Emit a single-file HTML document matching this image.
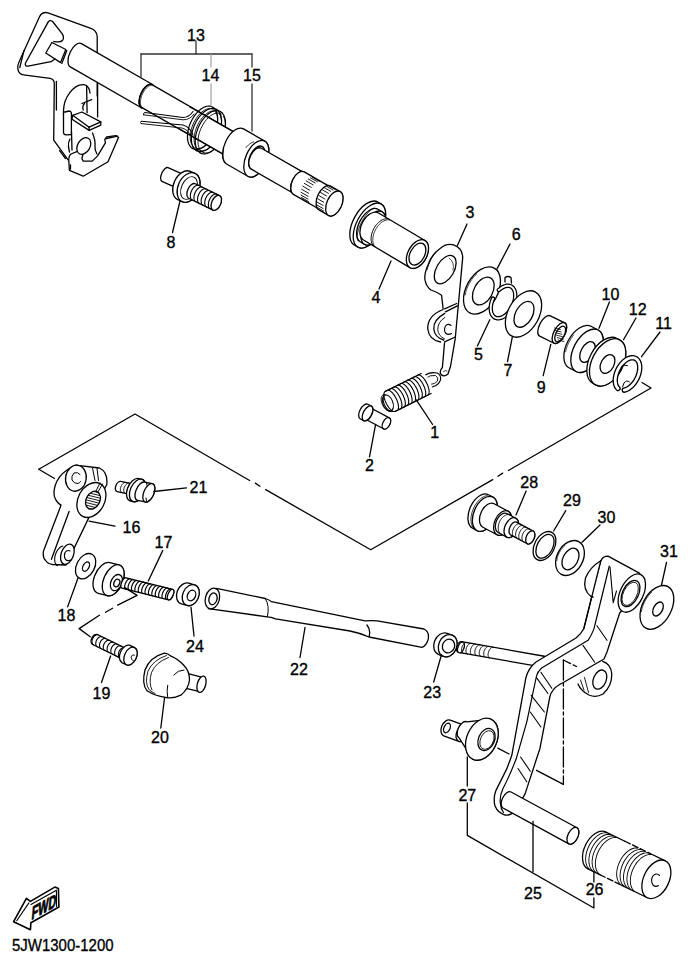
<!DOCTYPE html>
<html><head><meta charset="utf-8"><style>
html,body{margin:0;padding:0;background:#fff;width:688px;height:964px;overflow:hidden}
svg{display:block}
text{font-family:"Liberation Sans",sans-serif;fill:#000;stroke:#000;stroke-width:0.35px}
</style></head><body>
<svg width="688" height="964" viewBox="0 0 688 964">
<rect width="688" height="964" fill="#fff"/>
<g fill="none" stroke="#000" stroke-width="1.3" stroke-linejoin="round" stroke-linecap="round">
<path d="M97.2,96 L97.2,36.4 Q96.5,30 90.2,28.2 L48,12.8 Q42.5,11.5 39.7,16.3 L19.6,60.8 Q16.8,66.5 18.2,70.5 Q19.5,74.3 23.5,74.8 L50.1,78.3 Q54.2,79.3 54.3,83 L53.7,140.2 L68.1,159.8" fill="#fff"/>
<line x1="56.4" y1="81.5" x2="56.4" y2="110"/>
<line x1="59.6" y1="150.6" x2="65.5" y2="158.5"/>
<line x1="24" y1="50.4" x2="19.8" y2="67.5"/>
<line x1="97.6" y1="84" x2="97.6" y2="117"/>
<path d="M48.4,21.6 Q50.5,19.5 53,22 L62.3,33.8 Q64.5,37.5 62.5,40.5 Q61,42 57.5,41.8 L53.6,41.6" fill="none"/>
<path d="M45.8,53 L51.9,42.5 L65.8,49.5 L60.6,62.6 Z" fill="#fff"/>
<line x1="66.8" y1="50.6" x2="61.8" y2="63.4"/>
<path d="M48.4,21.6 L25.5,63 Q24.5,66.5 28,66.2 L51,61.7 L55,59" fill="none"/>
<path d="M63.5,115.3 Q63,104 67,97 Q72,88 79.2,85.2 Q84,84 86,85.2 Q89.5,87.5 90,93" fill="none"/>
<line x1="86.6" y1="86" x2="87.1" y2="112.7"/>
<line x1="81.9" y1="103.5" x2="91.7" y2="99.6"/>
<path d="M83.2,110 Q82,106 84.5,103.5" fill="none"/>
<path d="M65,112 Q63.5,111.5 63.5,114 L63.5,133 Q64,135 66.5,134.8 L71.4,134.5 L71.4,113 Q71,111 69,111 Z" fill="#fff"/>
<path d="M68.8,161.1 L69.4,170.3 L83.2,176.2 L108,161.8 L118.5,137.6 L115.9,135.6 L106.7,136.9 L104.8,139.5 L105.4,142.8 L97.6,155.9 L92.3,161.1 L83.2,161.1 L81.9,158.5 L83.2,153.3 L79.2,150.6 L71,154 Q68.5,156 68.8,161.1 Z" fill="#fff"/>
<line x1="70.5" y1="165" x2="70.5" y2="169"/>
<line x1="106.5" y1="138.5" x2="117.5" y2="136.2"/>
<path d="M71.5,132 L72,150 M70,139 Q68,142 68.5,147 L69.5,152" fill="none"/>
<path d="M92.5,133 Q95.5,140 95,146 Q94.5,150 97,154" fill="none"/>
<ellipse cx="83.8" cy="146" rx="6.2" ry="9" transform="rotate(30 83.8 146)" fill="#fff"/>
<path d="M72.7,115.3 L81.9,112 L100.8,121.9 L100.8,125.1 L89.1,130.4 L72,119.2 Z" fill="#fff"/>
<line x1="89.1" y1="127.2" x2="89.1" y2="130.4"/>
<line x1="89.1" y1="127.2" x2="100.8" y2="121.9"/>
<line x1="72.7" y1="115.3" x2="89.1" y2="127.2"/>
<path d="M81.4,43.63 L152.48,84.5 A6.5,12.9 24 0 1 141.39,107.77 L70.3,66.89 A6.5,12.9 24 0 1 81.4,43.63 Z" fill="#fff"/>
<path d="M152.33,84.88 L239.02,134.72 A6.5,12.5 24 0 1 228.23,157.25 L141.54,107.4 A6.5,12.5 24 0 1 152.33,84.88 Z" fill="#fff"/>
<polyline points="141.69,107.92 141.1,107.58 140.57,107.11 140.11,106.53 139.73,105.83 139.42,105.02 139.2,104.12 139.06,103.12 139.01,102.06 139.05,100.92 139.17,99.74 139.38,98.51 139.67,97.26 140.04,96 140.48,94.74 141,93.49 141.58,92.27 142.22,91.1 142.91,89.98 143.65,88.93 144.42,87.95 145.22,87.07 146.03,86.29 146.86,85.61 147.69,85.05 148.51,84.61 149.31,84.29 150.09,84.11 150.83,84.06 151.53,84.14 152.18,84.35"/>
<polyline points="142.2,107.67 141.7,107.12 141.28,106.44 140.94,105.66 140.68,104.78 140.51,103.81 140.43,102.75 140.43,101.63 140.53,100.45 140.72,99.24 140.99,97.99 141.35,96.73 141.79,95.48 142.3,94.24 142.88,93.03 143.52,91.87 144.21,90.76 144.96,89.72 145.74,88.77 146.54,87.91 147.37,87.15 148.21,86.51 149.05,85.98 149.88,85.58 150.69,85.32 151.47,85.18 152.21,85.18" stroke-width="0.8"/>
<polyline points="213.84,108.01 214.84,109.05 215.7,110.29 216.41,111.74 216.97,113.36 217.38,115.14 217.61,117.05 217.68,119.09 217.59,121.23 217.32,123.44 216.9,125.69 216.31,127.97 215.57,130.25 214.69,132.5 213.68,134.69 212.54,136.81 211.29,138.83 209.94,140.73 208.51,142.49 207.02,144.08 205.47,145.49 203.9,146.7 202.31,147.71 200.72,148.49 199.15,149.04 197.62,149.36 196.15,149.44 194.74,149.28 193.43,148.88 192.21,148.25" stroke-width="1.2"/>
<polyline points="215.59,111.94 216.28,113.22 216.82,114.68 217.21,116.3 217.45,118.05 217.53,119.93 217.45,121.91 217.22,123.96 216.83,126.07 216.3,128.21 215.62,130.34 214.8,132.46 213.86,134.53 212.81,136.54 211.65,138.45 210.4,140.24 209.07,141.9 207.69,143.41 206.26,144.75 204.81,145.9 203.34,146.84 201.88,147.58 200.44,148.1 199.04,148.39 197.7,148.45 196.43,148.29 195.24,147.89" stroke-width="0.9"/>
<polyline points="217.74,110.25 218.74,111.29 219.6,112.54 220.31,113.98 220.88,115.6 221.28,117.38 221.51,119.3 221.59,121.34 221.49,123.47 221.23,125.68 220.8,127.93 220.21,130.21 219.48,132.49 218.59,134.74 217.58,136.94 216.44,139.06 215.19,141.08 213.84,142.97 212.41,144.73 210.92,146.32 209.37,147.73 207.8,148.94 206.21,149.95 204.62,150.73 203.05,151.29 201.52,151.61 200.05,151.69 198.65,151.52 197.33,151.13 196.11,150.49" stroke-width="1.2"/>
<polyline points="219.5,114.18 220.18,115.47 220.72,116.92 221.11,118.54 221.35,120.3 221.43,122.18 221.35,124.15 221.12,126.21 220.73,128.31 220.2,130.45 219.52,132.59 218.7,134.7 217.76,136.78 216.71,138.78 215.55,140.69 214.3,142.49 212.98,144.15 211.59,145.65 210.16,146.99 208.71,148.14 207.24,149.09 205.78,149.82 204.34,150.34 202.95,150.63 201.6,150.7 200.33,150.53 199.15,150.14" stroke-width="0.9"/>
<polyline points="221.64,112.49 222.64,113.53 223.5,114.78 224.22,116.22 224.78,117.84 225.18,119.62 225.42,121.54 225.49,123.58 225.39,125.71 225.13,127.92 224.7,130.18 224.11,132.46 223.38,134.73 222.49,136.98 221.48,139.18 220.34,141.3 219.09,143.32 217.74,145.22 216.31,146.97 214.82,148.56 213.28,149.97 211.7,151.19 210.11,152.19 208.52,152.98 206.95,153.53 205.42,153.85 203.95,153.93 202.55,153.77 201.23,153.37 200.01,152.74" stroke-width="1.2"/>
<polyline points="223.4,116.43 224.08,117.71 224.62,119.17 225.01,120.78 225.25,122.54 225.33,124.42 225.26,126.4 225.02,128.45 224.64,130.56 224.1,132.69 223.42,134.83 222.61,136.95 221.66,139.02 220.61,141.02 219.45,142.93 218.2,144.73 216.88,146.39 215.49,147.9 214.06,149.23 212.61,150.38 211.14,151.33 209.68,152.07 208.24,152.59 206.85,152.88 205.5,152.94 204.23,152.77 203.05,152.38" stroke-width="0.9"/>
<path d="M189.49,106.59 L238.91,135 A6.5,12.2 24 0 1 228.34,156.97 L178.93,128.55 A6.5,12.2 24 0 1 189.49,106.59 Z" fill="#fff" stroke="none"/>
<path d="M189.49,106.59 L238.91,135 M178.93,128.55 L228.34,156.97"/>
<polyline points="192.21,148.25 191.09,147.37 190.1,146.26 189.25,144.94 188.56,143.42 188.03,141.72 187.67,139.86 187.48,137.85 187.46,135.73 187.62,133.52 187.96,131.25 188.46,128.93 189.12,126.6 189.94,124.28 190.91,122 192.01,119.79 193.24,117.68 194.57,115.68 195.99,113.82 197.49,112.12 199.05,110.6 200.65,109.28 202.28,108.18 203.9,107.3 205.51,106.66 207.09,106.26 208.61,106.11 210.06,106.22 211.43,106.57 212.69,107.17 213.84,108.01" stroke-width="1.2"/>
<polyline points="194.35,147.41 193.38,146.64 192.52,145.67 191.79,144.51 191.19,143.18 190.73,141.69 190.41,140.05 190.24,138.28 190.21,136.41 190.34,134.46 190.62,132.44 191.04,130.37 191.6,128.29 192.3,126.2 193.12,124.15 194.06,122.14 195.11,120.2 196.25,118.35 197.48,116.62 198.78,115.01 200.13,113.55 201.53,112.26 202.95,111.14 204.38,110.22 205.8,109.5 207.2,108.98 208.57,108.68 209.89,108.59 211.13,108.73 212.3,109.08 213.38,109.64" stroke-width="0.9"/>
<polyline points="196.11,150.49 194.99,149.61 194,148.5 193.15,147.18 192.46,145.66 191.93,143.96 191.57,142.1 191.38,140.1 191.36,137.98 191.52,135.77 191.86,133.49 192.36,131.17 193.03,128.84 193.85,126.52 194.81,124.25 195.91,122.04 197.14,119.92 198.47,117.92 199.89,116.06 201.4,114.36 202.95,112.84 204.55,111.52 206.18,110.42 207.8,109.54 209.41,108.9 210.99,108.5 212.51,108.36 213.96,108.46 215.33,108.81 216.6,109.41 217.74,110.25" stroke-width="1.2"/>
<polyline points="198.25,149.65 197.28,148.88 196.42,147.91 195.69,146.75 195.09,145.42 194.63,143.93 194.31,142.29 194.14,140.53 194.12,138.66 194.24,136.7 194.52,134.68 194.94,132.61 195.5,130.53 196.2,128.45 197.02,126.39 197.96,124.38 199.01,122.44 200.16,120.6 201.38,118.86 202.68,117.25 204.03,115.8 205.43,114.5 206.85,113.39 208.28,112.46 209.7,111.74 211.1,111.22 212.47,110.92 213.79,110.84 215.04,110.97 216.2,111.32 217.28,111.89" stroke-width="0.9"/>
<polyline points="200.01,152.74 198.89,151.86 197.9,150.75 197.05,149.43 196.36,147.91 195.83,146.2 195.47,144.34 195.28,142.34 195.27,140.22 195.43,138.01 195.76,135.73 196.26,133.42 196.93,131.08 197.75,128.77 198.71,126.49 199.82,124.28 201.04,122.16 202.37,120.16 203.8,118.3 205.3,116.6 206.86,115.09 208.46,113.77 210.08,112.66 211.7,111.78 213.31,111.14 214.89,110.75 216.41,110.6 217.87,110.7 219.23,111.06 220.5,111.65 221.64,112.49" stroke-width="1.2"/>
<polyline points="202.16,151.9 201.18,151.12 200.33,150.15 199.59,149 198.99,147.66 198.53,146.17 198.21,144.53 198.04,142.77 198.02,140.9 198.14,138.94 198.42,136.92 198.84,134.86 199.4,132.77 200.1,130.69 200.92,128.63 201.86,126.63 202.91,124.69 204.06,122.84 205.28,121.1 206.58,119.5 207.93,118.04 209.33,116.75 210.75,115.63 212.18,114.71 213.6,113.98 215.01,113.47 216.37,113.17 217.69,113.08 218.94,113.22 220.11,113.57 221.18,114.13" stroke-width="0.9"/>
<path d="M145,112.5 L183,117.5 Q189,117.5 193,111.5" fill="none" stroke-width="1.1"/>
<path d="M143.5,114.8 L183,119.8 Q190,120 194,114" fill="none" stroke-width="0.9"/>
<path d="M141.2,121.3 L183,125 Q190,127 193,135" fill="none" stroke-width="1.1"/>
<path d="M141.2,123.6 L182,128 Q188,129.5 191,136" fill="none" stroke-width="0.9"/>
<path d="M145,112.5 Q142.5,113 143.5,114.8 M141.2,121.3 Q139.5,122.5 141.2,123.6" fill="none" stroke-width="0.9"/>
<path d="M243.54,128.93 L264.78,141.14 A10.6,19.5 24 0 1 247.85,176.23 L226.61,164.02 A10.6,19.5 24 0 1 243.54,128.93 Z" fill="#fff"/>
<ellipse cx="256.31" cy="158.69" rx="10.6" ry="19.5" transform="rotate(24 256.31 158.69)" fill="#fff"/>
<ellipse cx="256.81" cy="157.82" rx="7" ry="12.5" transform="rotate(24 256.81 157.82)" fill="#fff"/>
<path d="M261.37,148.26 L304.28,172.93 A6.5,11.6 24 0 1 294.17,193.79 L251.26,169.11 A6.5,11.6 24 0 1 261.37,148.26 Z" fill="#fff"/>
<polyline points="223.8,159.99 223.36,158.44 223.09,156.72 222.99,154.87 223.06,152.91 223.3,150.86 223.7,148.76" stroke-width="0.8"/>
<polyline points="245.97,147.64 247.11,146.28 248.33,145.06 249.61,143.99 250.94,143.1 252.28,142.39 253.64,141.88" stroke-width="0.8"/>
<path d="M304.24,171.88 L330.24,186.83 A7,12.5 24 0 1 319.35,209.3 L293.35,194.35 A7,12.5 24 0 1 304.24,171.88 Z" fill="#fff"/>
<polyline points="293.71,194.53 293.07,194.17 292.49,193.69 291.98,193.09 291.55,192.39 291.19,191.58 290.92,190.68 290.74,189.69 290.64,188.64 290.63,187.52 290.71,186.36 290.88,185.15 291.14,183.93 291.48,182.7 291.9,181.47 292.4,180.26 292.96,179.09 293.59,177.95 294.28,176.87 295.02,175.87 295.8,174.94 296.61,174.1 297.44,173.35 298.29,172.72 299.15,172.2 300,171.8 300.84,171.52 301.65,171.37 302.44,171.35 303.18,171.46 303.88,171.69" stroke-width="1"/>
<path d="M330.6,186.11 L340.13,191.6 A7.5,13.3 24 0 1 328.54,215.5 L319,210.02 A7.5,13.3 24 0 1 330.6,186.11 Z" fill="#fff"/>
<ellipse cx="334.34" cy="203.55" rx="7.5" ry="13.3" transform="rotate(24 334.34 203.55)" fill="#fff"/>
<line x1="302.63" y1="199.39" x2="309.56" y2="203.37" stroke-width="0.9"/>
<line x1="301.59" y1="197.56" x2="308.53" y2="201.55" stroke-width="0.9"/>
<line x1="301.08" y1="195.15" x2="308.01" y2="199.14" stroke-width="0.9"/>
<line x1="301.12" y1="192.34" x2="308.05" y2="196.33" stroke-width="0.9"/>
<line x1="301.7" y1="189.3" x2="308.64" y2="193.29" stroke-width="0.9"/>
<line x1="302.8" y1="186.25" x2="309.74" y2="190.23" stroke-width="0.9"/>
<line x1="304.33" y1="183.39" x2="311.27" y2="187.38" stroke-width="0.9"/>
<line x1="306.2" y1="180.92" x2="313.13" y2="184.91" stroke-width="0.9"/>
<line x1="308.27" y1="179.01" x2="315.2" y2="182.99" stroke-width="0.9"/>
<line x1="310.4" y1="177.78" x2="317.34" y2="181.77" stroke-width="0.9"/>
<line x1="312.45" y1="177.33" x2="319.39" y2="181.31" stroke-width="0.9"/>
<line x1="318.67" y1="209.51" x2="324.74" y2="213" stroke-width="0.9"/>
<line x1="317.56" y1="207.56" x2="323.62" y2="211.05" stroke-width="0.9"/>
<line x1="317" y1="205" x2="323.06" y2="208.49" stroke-width="0.9"/>
<line x1="317.03" y1="202" x2="323.1" y2="205.49" stroke-width="0.9"/>
<line x1="317.65" y1="198.76" x2="323.72" y2="202.25" stroke-width="0.9"/>
<line x1="318.81" y1="195.51" x2="324.88" y2="199" stroke-width="0.9"/>
<line x1="320.45" y1="192.47" x2="326.52" y2="195.96" stroke-width="0.9"/>
<line x1="322.44" y1="189.85" x2="328.51" y2="193.34" stroke-width="0.9"/>
<line x1="324.65" y1="187.82" x2="330.71" y2="191.31" stroke-width="0.9"/>
<line x1="326.93" y1="186.52" x2="332.99" y2="190.01" stroke-width="0.9"/>
<line x1="329.12" y1="186.04" x2="335.19" y2="189.53" stroke-width="0.9"/>
<g stroke="#333">
<line x1="196" y1="41" x2="196" y2="54"/>
<line x1="141" y1="54" x2="252" y2="54"/>
<line x1="141" y1="54" x2="141" y2="77"/>
<line x1="252" y1="54" x2="252" y2="67"/>
<line x1="252" y1="84" x2="252" y2="131"/>
</g>
<g stroke="#999">
<line x1="211" y1="54" x2="211" y2="67" stroke-width="1.1"/>
<line x1="211" y1="84" x2="211" y2="106" stroke-width="1.1"/>
</g>
<text x="196" y="40.7" font-size="16" text-anchor="middle">13</text>
<text x="210.5" y="80.7" font-size="16" text-anchor="middle">14</text>
<text x="252" y="80.7" font-size="16" text-anchor="middle">15</text>
<path d="M168.05,167.65 L188.15,176.6 A3.5,7.5 24 0 1 182.05,190.3 L161.95,181.35 A3.5,7.5 24 0 1 168.05,167.65 Z" fill="#fff"/>
<path d="M190.3,171.34 L194.87,173.37 A10.5,15.5 24 0 1 182.26,201.69 L177.7,199.66 A10.5,15.5 24 0 1 190.3,171.34 Z" fill="#fff"/>
<ellipse cx="188.57" cy="187.53" rx="10.5" ry="15.5" transform="rotate(24 188.57 187.53)" fill="#fff"/>
<ellipse cx="189" cy="188" rx="7.5" ry="12" transform="rotate(24 189 188)" fill="none" stroke-width="0.9"/>
<path d="M195.33,183.73 L219.6,195.57 A4.5,8 24 0 1 212.93,210.11 L188.67,198.27 A4.5,8 24 0 1 195.33,183.73 Z" fill="#fff"/>
<ellipse cx="216.27" cy="202.84" rx="4.5" ry="8" transform="rotate(24 216.27 202.84)" fill="#fff"/>
<polyline points="192.34,200.06 191.93,199.83 191.56,199.52 191.23,199.14 190.95,198.68 190.72,198.17 190.55,197.59 190.43,196.96 190.36,196.28 190.36,195.57 190.41,194.82 190.52,194.05 190.68,193.27 190.9,192.48 191.17,191.7 191.49,190.92 191.85,190.17 192.25,189.44 192.69,188.75 193.16,188.11 193.66,187.51 194.18,186.98 194.72,186.5 195.26,186.1 195.81,185.76 196.36,185.51 196.9,185.33 197.42,185.24 197.92,185.22 198.4,185.29 198.85,185.44" stroke-width="1.1"/>
<polyline points="195.94,201.81 195.53,201.58 195.15,201.27 194.83,200.89 194.55,200.44 194.32,199.92 194.14,199.34 194.02,198.71 193.96,198.03 193.95,197.32 194,196.57 194.11,195.8 194.28,195.02 194.49,194.23 194.76,193.45 195.08,192.67 195.44,191.92 195.85,191.19 196.29,190.5 196.76,189.86 197.26,189.26 197.78,188.73 198.31,188.25 198.86,187.85 199.41,187.52 199.95,187.26 200.49,187.08 201.02,186.99 201.52,186.97 202,187.04 202.45,187.2" stroke-width="1.1"/>
<polyline points="199.53,203.56 199.12,203.33 198.75,203.02 198.42,202.64 198.14,202.19 197.91,201.67 197.74,201.09 197.62,200.46 197.56,199.79 197.55,199.07 197.6,198.33 197.71,197.56 197.87,196.77 198.09,195.99 198.36,195.2 198.68,194.43 199.04,193.67 199.44,192.95 199.88,192.26 200.36,191.61 200.85,191.02 201.37,190.48 201.91,190.01 202.46,189.6 203,189.27 203.55,189.01 204.09,188.84 204.61,188.74 205.12,188.73 205.59,188.8 206.04,188.95" stroke-width="1.1"/>
<polyline points="203.13,205.32 202.72,205.09 202.35,204.78 202.02,204.39 201.74,203.94 201.51,203.42 201.34,202.84 201.22,202.21 201.15,201.54 201.15,200.82 201.2,200.08 201.3,199.31 201.47,198.53 201.69,197.74 201.96,196.95 202.27,196.18 202.64,195.42 203.04,194.7 203.48,194.01 203.95,193.36 204.45,192.77 204.97,192.23 205.51,191.76 206.05,191.35 206.6,191.02 207.15,190.76 207.68,190.59 208.21,190.49 208.71,190.48 209.19,190.55 209.64,190.7" stroke-width="1.1"/>
<polyline points="206.73,207.07 206.31,206.84 205.94,206.53 205.62,206.15 205.34,205.69 205.11,205.17 204.93,204.6 204.81,203.97 204.75,203.29 204.74,202.57 204.79,201.83 204.9,201.06 205.06,200.28 205.28,199.49 205.55,198.7 205.87,197.93 206.23,197.18 206.64,196.45 207.08,195.76 207.55,195.12 208.05,194.52 208.57,193.98 209.1,193.51 209.65,193.1 210.2,192.77 210.74,192.52 211.28,192.34 211.8,192.24 212.31,192.23 212.79,192.3 213.23,192.45" stroke-width="1.1"/>
<polyline points="210.32,208.82 209.91,208.59 209.54,208.28 209.21,207.9 208.93,207.44 208.7,206.93 208.53,206.35 208.41,205.72 208.34,205.04 208.34,204.33 208.39,203.58 208.5,202.81 208.66,202.03 208.88,201.24 209.15,200.46 209.47,199.68 209.83,198.93 210.23,198.2 210.67,197.51 211.14,196.87 211.64,196.27 212.16,195.74 212.7,195.26 213.24,194.86 213.79,194.52 214.34,194.27 214.88,194.09 215.4,194 215.9,193.98 216.38,194.05 216.83,194.2" stroke-width="1.1"/>
<line x1="180" y1="201" x2="172.5" y2="232.5"/>
<text x="171" y="248.2" font-size="16" text-anchor="middle">8</text>
<path d="M377.79,202.03 L381.22,204.07 A13,24.5 28 0 1 357.65,247.01 L354.21,244.97 A13,24.5 28 0 1 377.79,202.03 Z" fill="#fff"/>
<ellipse cx="369.44" cy="225.54" rx="13" ry="24.5" transform="rotate(28 369.44 225.54)" fill="#fff"/>
<path d="M377.91,209.29 L382.21,211.84 A10,18.5 28 0 1 364.39,244.26 L360.09,241.71 A10,18.5 28 0 1 377.91,209.29 Z" fill="#fff"/>
<ellipse cx="373.3" cy="228.05" rx="10" ry="18.5" transform="rotate(28 373.3 228.05)" fill="#fff"/>
<path d="M378.52,212.95 L424.95,240.52 A9.5,15.5 28 0 1 409.92,267.62 L363.48,240.05 A9.5,15.5 28 0 1 378.52,212.95 Z" fill="#fff"/>
<ellipse cx="417.43" cy="254.07" rx="9.5" ry="15.5" transform="rotate(28 417.43 254.07)" fill="#fff"/>
<ellipse cx="417.43" cy="254.07" rx="7.2" ry="11.8" transform="rotate(28 417.43 254.07)" fill="#fff"/>
<polyline points="373.56,245.84 372.85,245.04 372.26,244.11 371.78,243.04 371.42,241.87 371.19,240.59 371.08,239.23 371.1,237.79 371.25,236.31 371.52,234.78 371.92,233.24 372.43,231.7 373.06,230.17 373.79,228.68 374.62,227.24 375.53,225.86 376.53,224.57 377.58,223.38 378.69,222.3 379.84,221.35 381.02,220.53 382.21,219.86 383.4,219.34 384.58,218.98 385.73,218.78 386.83,218.75 387.89,218.88" stroke-width="1.0"/>
<polyline points="375.27,246.86 374.57,246.06 373.98,245.13 373.5,244.06 373.14,242.89 372.91,241.61 372.8,240.25 372.82,238.81 372.97,237.33 373.24,235.8 373.64,234.26 374.15,232.72 374.78,231.19 375.51,229.7 376.34,228.26 377.25,226.88 378.25,225.59 379.3,224.4 380.41,223.32 381.56,222.37 382.74,221.55 383.93,220.88 385.12,220.36 386.3,220 387.45,219.8 388.55,219.77 389.61,219.91" stroke-width="0.8"/>
<polyline points="358.14,240.95 357.72,240.22 357.41,239.32 357.22,238.27 357.15,237.07 357.19,235.74 357.36,234.29 357.64,232.74 358.03,231.1 358.53,229.4 359.14,227.65 359.85,225.87 360.64,224.08 361.51,222.3 362.46,220.55 363.46,218.85 364.52,217.22 365.61,215.67 366.73,214.22 367.86,212.89 369,211.7 370.12,210.65 371.22,209.76 372.29,209.03 373.31,208.48 374.27,208.11" stroke-width="0.8"/>
<line x1="391" y1="261" x2="379" y2="289"/>
<text x="376" y="302.7" font-size="16" text-anchor="middle">4</text>
<path d="M444.6,341.9 L442.4,367.5 Q439,371 441,374.5 Q444,377.5 448,374 L450.6,366 L455.2,338.9 L462.7,257.6 Q462.5,248 453.7,244.8 Q446,243 440.1,248.5 Q431,255 428,265 Q424,274 425,280.2 Q426.5,287 431,290 Q437,292 441.6,295.2 L443.1,308.8" fill="#fff"/>
<path d="M427,270 Q430,258 437,251" fill="none" stroke-width="0.7"/>
<ellipse cx="445.2" cy="269.6" rx="8.8" ry="15.6" transform="rotate(30 445.2 269.6)" fill="#fff"/>
<path d="M449,258 Q455,262 453,270" fill="none" stroke-width="0.7"/>
<path d="M443,309 Q427,316 427.8,329 Q429,340 440.6,342 L445,342.5 L453,339 L457,306 Z" fill="#fff" stroke="none"/>
<path d="M443,309.5 Q427,316 427.8,329 Q429,340 440.6,342" fill="none"/>
<path d="M444.7,313.4 Q433,320 433.8,329 Q434.8,337.5 443.7,340" fill="none"/>
<path d="M444.8,317.5 Q437.5,322 437.8,330 Q438.3,336 444.5,338.8" fill="none" stroke-width="0.9"/>
<path d="M451,325.5 Q448,323 445.5,326 Q443.5,330 445.5,333 Q448,335.5 451.5,333.5" fill="none" stroke-width="1.1"/>
<line x1="444.6" y1="308.8" x2="456.7" y2="303.5"/>
<line x1="445.4" y1="311.8" x2="457.4" y2="305.8"/>
<line x1="444.6" y1="341.9" x2="455.2" y2="337"/>
<path d="M443.5,371.5 Q445.5,369.5 447,371" fill="none" stroke-width="0.8"/>
<line x1="457.4" y1="245.5" x2="467" y2="224"/>
<text x="470" y="217.7" font-size="16" text-anchor="middle">3</text>
<ellipse cx="482" cy="290.5" rx="15.8" ry="25.5" transform="rotate(28.7 482 290.5)" fill="#fff"/>
<ellipse cx="483.3" cy="291" rx="9.3" ry="15" transform="rotate(28.7 483.3 291)" fill="#fff"/>
<polyline points="465.22,295 465.69,292.7 466.34,290.38 467.16,288.07 468.15,285.78 469.28,283.54 470.56,281.37 471.96,279.31 473.47,277.37 475.07,275.58 476.75,273.94" stroke-width="0.7"/>
<line x1="497" y1="268.9" x2="510" y2="244"/>
<text x="516.3" y="240.2" font-size="16" text-anchor="middle">6</text>
<path d="M505,282 L505,277.5 Q508,275.5 511,277.5 L511.5,283" fill="#fff"/>
<polyline points="498.87,290.08 500.55,288.62 502.27,287.44 504.01,286.55 505.73,285.97 507.39,285.71 508.97,285.78 510.42,286.17 511.73,286.88 512.86,287.9 513.8,289.2 514.51,290.75 515,292.53 515.24,294.5 515.24,296.62 515,298.85 514.51,301.15 513.79,303.46 512.86,305.74 511.72,307.94 510.41,310.03 508.96,311.95 507.38,313.68 505.72,315.17 504,316.4 502.26,317.33 500.53,317.96 498.86,318.27 497.27,318.25 495.79,317.91 494.46,317.25 493.3,316.28 492.33,315.02 491.58,313.5 491.06,311.76 490.78,309.81 490.74,307.71 490.95,305.49 491.4,303.21 492.08,300.9 492.99,298.61" stroke-width="4.4" fill="none"/>
<polyline points="498.87,290.08 500.55,288.62 502.27,287.44 504.01,286.55 505.73,285.97 507.39,285.71 508.97,285.78 510.42,286.17 511.73,286.88 512.86,287.9 513.8,289.2 514.51,290.75 515,292.53 515.24,294.5 515.24,296.62 515,298.85 514.51,301.15 513.79,303.46 512.86,305.74 511.72,307.94 510.41,310.03 508.96,311.95 507.38,313.68 505.72,315.17 504,316.4 502.26,317.33 500.53,317.96 498.86,318.27 497.27,318.25 495.79,317.91 494.46,317.25 493.3,316.28 492.33,315.02 491.58,313.5 491.06,311.76 490.78,309.81 490.74,307.71 490.95,305.49 491.4,303.21 492.08,300.9 492.99,298.61" stroke="#fff" stroke-width="1.9" fill="none"/>
<line x1="489.8" y1="319.8" x2="477.4" y2="346"/>
<text x="478.5" y="359.7" font-size="16" text-anchor="middle">5</text>
<ellipse cx="523.5" cy="314" rx="15.5" ry="25" transform="rotate(28.7 523.5 314)" fill="#fff"/>
<ellipse cx="524" cy="314.3" rx="8.5" ry="14" transform="rotate(28.7 524 314.3)" fill="#fff"/>
<line x1="512.3" y1="337.2" x2="507.5" y2="361.5"/>
<text x="508" y="375.7" font-size="16" text-anchor="middle">7</text>
<path d="M550.32,315.8 L564.7,322.82 A5.5,11.5 28 0 1 554.06,343.21 L539.68,336.2 A5.5,11.5 28 0 1 550.32,315.8 Z" fill="#fff"/>
<ellipse cx="559.38" cy="333.01" rx="5.5" ry="11.5" transform="rotate(28 559.38 333.01)" fill="#fff"/>
<ellipse cx="560.2" cy="334" rx="4.2" ry="8.5" transform="rotate(28 560.2 334)" fill="#fff"/>
<line x1="554.4" y1="328" x2="560.4" y2="329.5" stroke-width="0.8"/>
<line x1="555.12" y1="330.4" x2="561.12" y2="331.9" stroke-width="0.8"/>
<line x1="555.84" y1="332.8" x2="561.84" y2="334.3" stroke-width="0.8"/>
<line x1="556.56" y1="335.2" x2="562.56" y2="336.7" stroke-width="0.8"/>
<line x1="557.28" y1="337.6" x2="563.28" y2="339.1" stroke-width="0.8"/>
<line x1="558" y1="340" x2="564" y2="341.5" stroke-width="0.8"/>
<line x1="550.8" y1="344.4" x2="543.2" y2="375.6"/>
<text x="541.3" y="392.7" font-size="16" text-anchor="middle">9</text>
<path d="M591.03,326.25 L598.1,330.01 A13.5,23.5 28 0 1 576.03,371.51 L568.97,367.75 A13.5,23.5 28 0 1 591.03,326.25 Z" fill="#fff"/>
<ellipse cx="587.06" cy="350.76" rx="13.5" ry="23.5" transform="rotate(28 587.06 350.76)" fill="#fff"/>
<ellipse cx="587.5" cy="352" rx="6.5" ry="11.2" transform="rotate(28 587.5 352)" fill="#fff"/>
<polyline points="565.66,351.83 566.14,349.67 566.79,347.47 567.59,345.26 568.54,343.08 569.63,340.94 570.84,338.88 572.16,336.91 573.58,335.06" stroke-width="0.7"/>
<line x1="599" y1="328.3" x2="609.4" y2="302"/>
<text x="610.5" y="299.7" font-size="16" text-anchor="middle">10</text>
<path d="M616.97,338.48 L619.62,339.89 A15.5,25.5 28 0 1 595.68,384.92 L593.03,383.52 A15.5,25.5 28 0 1 616.97,338.48 Z" fill="#fff"/>
<ellipse cx="607.65" cy="362.41" rx="15.5" ry="25.5" transform="rotate(28 607.65 362.41)" fill="#fff"/>
<ellipse cx="607.5" cy="364" rx="6.5" ry="10" transform="rotate(28 607.5 364)" fill="#fff"/>
<line x1="623.5" y1="339.7" x2="636" y2="318"/>
<text x="637.7" y="314.7" font-size="16" text-anchor="middle">12</text>
<polyline points="618.05,388.53 617.04,387.34 616.24,385.88 615.66,384.18 615.32,382.28 615.23,380.21 615.38,378.01 615.78,375.74 616.41,373.43 617.26,371.13 618.32,368.89 619.56,366.76 620.97,364.76 622.5,362.96 624.14,361.37 625.84,360.04 627.57,358.99 629.31,358.24 631,357.81 632.63,357.7 634.16,357.92 635.55,358.46 636.78,359.31 637.82,360.46 638.65,361.88 639.27,363.55 639.64,365.42 639.77,367.47 639.66,369.64 639.3,371.91 638.71,374.21 637.88,376.52 636.86,378.77 635.64,380.92 634.26,382.94 632.74,384.78 631.12,386.4 629.43,387.77 627.7,388.87 625.96,389.66 624.25,390.15" stroke-width="5.4" />
<polyline points="618.05,388.53 617.04,387.34 616.24,385.88 615.66,384.18 615.32,382.28 615.23,380.21 615.38,378.01 615.78,375.74 616.41,373.43 617.26,371.13 618.32,368.89 619.56,366.76 620.97,364.76 622.5,362.96 624.14,361.37 625.84,360.04 627.57,358.99 629.31,358.24 631,357.81 632.63,357.7 634.16,357.92 635.55,358.46 636.78,359.31 637.82,360.46 638.65,361.88 639.27,363.55 639.64,365.42 639.77,367.47 639.66,369.64 639.3,371.91 638.71,374.21 637.88,376.52 636.86,378.77 635.64,380.92 634.26,382.94 632.74,384.78 631.12,386.4 629.43,387.77 627.7,388.87 625.96,389.66 624.25,390.15" stroke="#fff" stroke-width="2.8" />
<path d="M629.5,382 Q626.5,379.5 624,383 L622.5,387" fill="none" stroke-width="1"/>
<path d="M621,367 Q623.5,364 627.5,365.5" fill="none" stroke-width="1"/>
<line x1="641.5" y1="356.7" x2="660" y2="332"/>
<text x="663.5" y="329" font-size="16" text-anchor="middle">11</text>
<polyline points="38.8,469.2 135,414 249.6,480.5"/>
<line x1="255.3" y1="483.1" x2="260" y2="486.2"/>
<polyline points="265.7,489.6 370.7,549.8 492.7,479.6"/>
<line x1="497.9" y1="476.2" x2="502.7" y2="473.1"/>
<polyline points="508.4,470.5 651,388 642,382.5"/>
<ellipse cx="389.32" cy="402.34" rx="5.5" ry="9.5" transform="rotate(-21.5 389.32 402.34)" fill="none" stroke-width="1.1"/>
<path d="M424,376 Q430,371.5 437,373 Q441.5,375 440.5,380 Q438.5,385.5 432,387 L427.5,389" fill="none" stroke-width="1.1"/>
<path d="M425.5,378.5 Q430,374.5 435.5,375.5 Q439,377.5 437.5,381 Q435.5,384 430.5,384.5" fill="none" stroke-width="0.9"/>
<path d="M385.32,391.32 L421.12,373.47 A4.5,11.2 -26.5 0 1 431.11,393.51 L395.31,411.36 A4.5,11.2 -26.5 0 1 385.32,391.32 Z" fill="#fff" stroke="none"/>
<path d="M385.32,391.32 L421.12,373.47 M395.31,411.36 L431.11,393.51"/>
<polyline points="386.78,390.64 387.19,390.39 387.66,390.25 388.18,390.23 388.74,390.33 389.34,390.54 389.98,390.87 390.64,391.3 391.31,391.84 392,392.48 392.68,393.21 393.36,394.03 394.03,394.91 394.67,395.86 395.28,396.86 395.86,397.91 396.39,398.98 396.88,400.07 397.31,401.16 397.68,402.24 397.99,403.31 398.23,404.34 398.4,405.33 398.5,406.26 398.52,407.12 398.47,407.91 398.35,408.61 398.16,409.22 397.9,409.73 397.57,410.14 397.18,410.43 396.73,410.61" stroke-width="1.1"/>
<polyline points="390.18,388.94 390.59,388.69 391.06,388.55 391.58,388.53 392.14,388.63 392.74,388.85 393.38,389.17 394.04,389.61 394.71,390.15 395.4,390.79 396.08,391.52 396.76,392.33 397.43,393.22 398.07,394.17 398.68,395.17 399.26,396.21 399.79,397.28 400.28,398.37 400.71,399.46 401.08,400.55 401.39,401.61 401.63,402.64 401.8,403.63 401.9,404.56 401.92,405.43 401.87,406.21 401.75,406.92 401.56,407.53 401.3,408.04 400.97,408.44 400.58,408.73 400.13,408.91" stroke-width="1.1"/>
<polyline points="393.58,387.24 393.99,386.99 394.46,386.86 394.98,386.84 395.54,386.94 396.14,387.15 396.78,387.48 397.44,387.91 398.11,388.45 398.8,389.09 399.48,389.82 400.16,390.63 400.83,391.52 401.47,392.47 402.08,393.47 402.66,394.51 403.2,395.59 403.68,396.67 404.11,397.77 404.48,398.85 404.79,399.92 405.03,400.95 405.2,401.93 405.3,402.87 405.32,403.73 405.28,404.52 405.15,405.22 404.96,405.83 404.7,406.34 404.37,406.74 403.98,407.04 403.53,407.22" stroke-width="1.1"/>
<polyline points="396.98,385.55 397.39,385.3 397.86,385.16 398.38,385.14 398.94,385.24 399.55,385.45 400.18,385.78 400.84,386.22 401.51,386.76 402.2,387.4 402.88,388.13 403.56,388.94 404.23,389.83 404.87,390.77 405.48,391.78 406.06,392.82 406.6,393.89 407.08,394.98 407.51,396.07 407.88,397.16 408.19,398.22 408.43,399.25 408.6,400.24 408.7,401.17 408.72,402.03 408.68,402.82 408.56,403.53 408.36,404.14 408.1,404.65 407.77,405.05 407.38,405.34 406.93,405.52" stroke-width="1.1"/>
<polyline points="400.38,383.85 400.79,383.6 401.26,383.47 401.78,383.45 402.34,383.55 402.95,383.76 403.58,384.09 404.24,384.52 404.91,385.06 405.6,385.7 406.28,386.43 406.96,387.24 407.63,388.13 408.27,389.08 408.89,390.08 409.46,391.12 410,392.19 410.48,393.28 410.91,394.38 411.28,395.46 411.59,396.53 411.83,397.56 412,398.54 412.1,399.47 412.13,400.34 412.08,401.13 411.96,401.83 411.76,402.44 411.5,402.95 411.17,403.35 410.78,403.65 410.34,403.82" stroke-width="1.1"/>
<polyline points="403.78,382.16 404.19,381.91 404.66,381.77 405.18,381.75 405.74,381.85 406.35,382.06 406.98,382.39 407.64,382.83 408.32,383.37 409,384.01 409.69,384.74 410.36,385.55 411.03,386.43 411.67,387.38 412.29,388.38 412.86,389.43 413.4,390.5 413.88,391.59 414.31,392.68 414.68,393.77 414.99,394.83 415.23,395.86 415.4,396.85 415.5,397.78 415.53,398.64 415.48,399.43 415.36,400.14 415.16,400.75 414.9,401.25 414.57,401.66 414.18,401.95 413.74,402.13" stroke-width="1.1"/>
<polyline points="407.18,380.46 407.59,380.21 408.06,380.08 408.58,380.06 409.14,380.15 409.75,380.37 410.38,380.69 411.04,381.13 411.72,381.67 412.4,382.31 413.09,383.04 413.77,383.85 414.43,384.74 415.07,385.69 415.69,386.69 416.26,387.73 416.8,388.8 417.28,389.89 417.71,390.99 418.09,392.07 418.39,393.13 418.63,394.17 418.8,395.15 418.9,396.08 418.93,396.95 418.88,397.74 418.76,398.44 418.57,399.05 418.3,399.56 417.98,399.96 417.59,400.25 417.14,400.43" stroke-width="1.1"/>
<polyline points="410.58,378.77 410.99,378.52 411.46,378.38 411.98,378.36 412.55,378.46 413.15,378.67 413.78,379 414.44,379.43 415.12,379.98 415.8,380.61 416.49,381.34 417.17,382.16 417.83,383.04 418.47,383.99 419.09,384.99 419.66,386.04 420.2,387.11 420.68,388.2 421.11,389.29 421.49,390.37 421.79,391.44 422.03,392.47 422.2,393.46 422.3,394.39 422.33,395.25 422.28,396.04 422.16,396.74 421.97,397.35 421.7,397.86 421.38,398.27 420.99,398.56 420.54,398.74" stroke-width="1.1"/>
<polyline points="413.98,377.07 414.39,376.82 414.86,376.69 415.38,376.67 415.95,376.76 416.55,376.98 417.18,377.3 417.84,377.74 418.52,378.28 419.2,378.92 419.89,379.65 420.57,380.46 421.23,381.35 421.87,382.3 422.49,383.3 423.07,384.34 423.6,385.41 424.08,386.5 424.52,387.59 424.89,388.68 425.19,389.74 425.43,390.77 425.6,391.76 425.7,392.69 425.73,393.56 425.68,394.35 425.56,395.05 425.37,395.66 425.11,396.17 424.78,396.57 424.39,396.86 423.94,397.04" stroke-width="1.1"/>
<polyline points="417.38,375.38 417.79,375.13 418.26,374.99 418.78,374.97 419.35,375.07 419.95,375.28 420.58,375.61 421.24,376.04 421.92,376.58 422.6,377.22 423.29,377.95 423.97,378.77 424.63,379.65 425.28,380.6 425.89,381.6 426.47,382.65 427,383.72 427.49,384.81 427.92,385.9 428.29,386.98 428.6,388.05 428.84,389.08 429.01,390.07 429.1,391 429.13,391.86 429.08,392.65 428.96,393.35 428.77,393.96 428.51,394.47 428.18,394.88 427.79,395.17 427.34,395.35" stroke-width="1.1"/>
<polyline points="395.64,411.15 395.23,411.4 394.76,411.54 394.24,411.55 393.68,411.46 393.08,411.24 392.44,410.92 391.78,410.48 391.11,409.94 390.42,409.3 389.74,408.57 389.06,407.76 388.39,406.87 387.75,405.92 387.14,404.92 386.56,403.88 386.03,402.81 385.54,401.72 385.11,400.63 384.74,399.54 384.43,398.48 384.19,397.45 384.02,396.46 383.92,395.53 383.9,394.66 383.95,393.87 384.07,393.17 384.26,392.56 384.52,392.05 384.85,391.65 385.24,391.36 385.69,391.18" stroke-width="1.1"/>
<ellipse cx="387.87" cy="403.06" rx="5" ry="8.5" transform="rotate(-21.5 387.87 403.06)" fill="none" stroke-width="1.0"/>
<polyline points="392.9,408.76 392.67,409.35 392.38,409.87 392.04,410.31 391.64,410.68 391.2,410.95 390.71,411.14 390.18,411.24 389.62,411.25 389.03,411.17 388.42,410.99 387.8,410.73 387.17,410.38 386.54,409.95 385.92,409.44 385.32,408.86 384.73,408.21 384.17,407.51 383.64,406.76 383.15,405.96 382.71,405.13 382.31,404.28 381.97,403.41 381.69,402.53 381.46,401.66 381.3,400.81 381.2,399.97 381.17,399.17 381.2,398.41 381.3,397.7 381.47,397.04 381.69,396.45 381.98,395.93 382.32,395.49 382.72,395.12 383.17,394.85 383.66,394.66 384.19,394.56 384.75,394.55 385.33,394.63 385.94,394.81" stroke-width="1.0"/>
<line x1="416.3" y1="399.9" x2="432.6" y2="424.5"/>
<text x="434.6" y="437.6" font-size="16" text-anchor="middle">1</text>
<path d="M369.91,407.53 L389.34,417.85 A3.5,6.2 28 0 1 383.51,428.8 L364.09,418.47 A3.5,6.2 28 0 1 369.91,407.53 Z" fill="#fff"/>
<ellipse cx="386.42" cy="423.33" rx="3.5" ry="6.2" transform="rotate(28 386.42 423.33)" fill="#fff"/>
<path d="M367.85,404.26 L371.38,406.14 A4.2,8.2 28 0 1 363.68,420.62 L360.15,418.74 A4.2,8.2 28 0 1 367.85,404.26 Z" fill="#fff"/>
<ellipse cx="367.53" cy="413.38" rx="4.2" ry="8.2" transform="rotate(28 367.53 413.38)" fill="#fff"/>
<line x1="375.6" y1="424.3" x2="369.5" y2="456.8"/>
<text x="369.5" y="471.2" font-size="16" text-anchor="middle">2</text>
<path d="M67.4,469.7 Q58,476 55,486 Q53,494 55,498 Q57,503 61.1,505.1 L43.4,551.3 Q42.5,558 45.7,560.5 Q48,564 52.6,564.5 L66,565 L88,519.4 L106.8,484.5 Q108,472 99.4,468 L75.4,465.1 Z" fill="#fff"/>
<line x1="69.1" y1="511.4" x2="51.4" y2="559.3"/>
<ellipse cx="75.9" cy="478.2" rx="10.3" ry="13.1" transform="rotate(10 75.9 478.2)" fill="#fff"/>
<path d="M80,474.5 Q77.5,471.5 74,473 Q71,476 72,480 Q74,484 78,483.5 Q79.5,483 80.5,481.5" fill="none" stroke-width="1.0"/>
<line x1="92.5" y1="468" x2="95" y2="480.5" stroke-width="1"/>
<line x1="97" y1="468.3" x2="98.5" y2="480.5" stroke-width="1"/>
<ellipse cx="91.4" cy="500" rx="13.2" ry="18.5" transform="rotate(28 91.4 500)" fill="#fff"/>
<ellipse cx="93" cy="500.2" rx="6.8" ry="9.5" transform="rotate(28 93 500.2)" fill="#fff"/>
<clipPath id="sp16"><ellipse cx="93" cy="500.2" rx="6.8" ry="9.5" transform="rotate(28 93 500.2)"/></clipPath>
<g clip-path="url(#sp16)">
<line x1="84" y1="489" x2="102" y2="493.5" stroke-width="0.9"/>
<line x1="84" y1="491.6" x2="102" y2="496.1" stroke-width="0.9"/>
<line x1="84" y1="494.2" x2="102" y2="498.7" stroke-width="0.9"/>
<line x1="84" y1="496.8" x2="102" y2="501.3" stroke-width="0.9"/>
<line x1="84" y1="499.4" x2="102" y2="503.9" stroke-width="0.9"/>
<line x1="84" y1="502" x2="102" y2="506.5" stroke-width="0.9"/>
<line x1="84" y1="504.6" x2="102" y2="509.1" stroke-width="0.9"/>
<line x1="84" y1="507.2" x2="102" y2="511.7" stroke-width="0.9"/>
<line x1="84" y1="509.8" x2="102" y2="514.3" stroke-width="0.9"/>
</g>
<line x1="98.2" y1="491.5" x2="102.5" y2="484" stroke-width="1"/>
<line x1="96" y1="491" x2="100" y2="483" stroke-width="1"/>
<ellipse cx="67.4" cy="554.2" rx="6.2" ry="10.5" transform="rotate(20 67.4 554.2)" fill="#fff"/>
<polyline points="57.41,565.64 56.85,565.27 56.33,564.78 55.88,564.19 55.49,563.51 55.17,562.74 54.93,561.88 54.76,560.97 54.67,559.99 54.66,558.96 54.73,557.9 54.88,556.82 55.11,555.73 55.42,554.64 55.79,553.57 56.23,552.53 56.73,551.52 57.29,550.57 57.9,549.69 58.55,548.87 59.23,548.14 59.94,547.5 60.67,546.97 61.41,546.53 62.15,546.21 62.88,546" stroke-width="1.1"/>
<path d="M70,551 Q67,549.5 65,552.5 Q63.5,556.5 65.5,559.5 Q67.5,561.5 70.5,560" fill="none" stroke-width="1.1"/>
<line x1="89.1" y1="521.1" x2="115" y2="526.2"/>
<text x="131.4" y="532.8" font-size="16" text-anchor="middle">16</text>
<line x1="38.8" y1="469.2" x2="54.5" y2="478.5"/>
<path d="M120.81,481.44 L137.44,484.98 A3.2,5.4 24 0 1 133.81,495.09 L117.19,491.56 A3.2,5.4 24 0 1 120.81,481.44 Z" fill="#fff"/>
<ellipse cx="135.63" cy="490.03" rx="3.2" ry="5.4" transform="rotate(24 135.63 490.03)" fill="#fff"/>
<polyline points="121.8,492.53 121.51,492.37 121.24,492.15 121.01,491.89 120.8,491.58 120.64,491.22 120.5,490.83 120.41,490.4 120.36,489.93 120.34,489.45 120.37,488.94 120.44,488.42 120.54,487.89 120.68,487.35 120.86,486.82 121.08,486.3 121.32,485.79 121.6,485.3 121.9,484.84 122.22,484.4 122.57,484.01 122.93,483.65 123.3,483.33 123.68,483.06 124.06,482.84 124.44,482.68 124.82,482.56 125.19,482.51 125.54,482.5 125.88,482.56 126.2,482.67" stroke-width="1.0"/>
<polyline points="125.2,493.25 124.91,493.09 124.64,492.87 124.41,492.61 124.2,492.3 124.04,491.94 123.9,491.55 123.81,491.12 123.76,490.65 123.74,490.17 123.77,489.66 123.84,489.14 123.94,488.61 124.08,488.07 124.26,487.54 124.48,487.02 124.72,486.51 125,486.02 125.3,485.56 125.62,485.12 125.97,484.73 126.33,484.37 126.7,484.05 127.08,483.78 127.46,483.56 127.84,483.4 128.22,483.28 128.59,483.23 128.94,483.22 129.28,483.28 129.6,483.39" stroke-width="1.0"/>
<polyline points="128.6,493.97 128.31,493.81 128.04,493.59 127.81,493.33 127.6,493.02 127.44,492.66 127.3,492.27 127.21,491.84 127.16,491.37 127.14,490.89 127.17,490.38 127.24,489.86 127.34,489.33 127.48,488.79 127.66,488.26 127.88,487.74 128.12,487.23 128.4,486.74 128.7,486.28 129.02,485.84 129.37,485.45 129.73,485.09 130.1,484.77 130.48,484.5 130.86,484.28 131.24,484.12 131.62,484 131.99,483.95 132.34,483.94 132.68,484 133,484.11" stroke-width="1.0"/>
<polyline points="132,494.69 131.71,494.53 131.44,494.31 131.21,494.05 131,493.74 130.84,493.38 130.7,492.99 130.61,492.56 130.56,492.09 130.54,491.61 130.57,491.1 130.64,490.58 130.74,490.05 130.88,489.51 131.06,488.98 131.28,488.46 131.52,487.95 131.8,487.46 132.1,487 132.42,486.56 132.77,486.17 133.13,485.81 133.5,485.49 133.88,485.22 134.26,485 134.64,484.84 135.02,484.72 135.39,484.67 135.74,484.66 136.08,484.72 136.4,484.83" stroke-width="1.0"/>
<path d="M138.56,478.57 L141.49,479.19 A7,12 24 0 1 133.38,501.65 L130.44,501.03 A7,12 24 0 1 138.56,478.57 Z" fill="#fff"/>
<ellipse cx="137.43" cy="490.42" rx="7" ry="12" transform="rotate(24 137.43 490.42)" fill="#fff"/>
<path d="M144.47,482.08 L152.3,483.74 A5,9.8 24 0 1 145.35,501.98 L137.53,500.32 A5,9.8 24 0 1 144.47,482.08 Z" fill="#fff"/>
<ellipse cx="148.83" cy="492.86" rx="5" ry="9.8" transform="rotate(24 148.83 492.86)" fill="#fff"/>
<line x1="146.5" y1="482.2" x2="147" y2="485.5" stroke-width="1"/>
<line x1="146" y1="498" x2="146.5" y2="501.2" stroke-width="1"/>
<line x1="153.8" y1="491.5" x2="186.5" y2="487.9"/>
<text x="198.5" y="493.1" font-size="16" text-anchor="middle">21</text>
<ellipse cx="85.6" cy="566.2" rx="9" ry="13.5" transform="rotate(28 85.6 566.2)" fill="#fff"/>
<ellipse cx="86" cy="566.6" rx="3" ry="5" transform="rotate(28 86 566.6)" fill="#fff"/>
<line x1="78" y1="578" x2="67.6" y2="606.9"/>
<text x="66.5" y="621.2" font-size="16" text-anchor="middle">18</text>
<path d="M109.8,562.61 L119.02,564.91 A9.5,16.5 24 0 1 107.42,595.68 L98.2,593.39 A9.5,16.5 24 0 1 109.8,562.61 Z" fill="#fff"/>
<ellipse cx="113.22" cy="580.3" rx="9.5" ry="16.5" transform="rotate(24 113.22 580.3)" fill="#fff"/>
<ellipse cx="116.4" cy="582.6" rx="5.5" ry="8.5" transform="rotate(24 116.4 582.6)" fill="#fff"/>
<ellipse cx="116.8" cy="583" rx="2.8" ry="4" transform="rotate(24 116.8 583)" fill="#fff"/>
<path d="M126.09,577.82 L172.67,589.43 A2.5,5.6 24 0 1 168.48,599.79 L121.91,588.18 A2.5,5.6 24 0 1 126.09,577.82 Z" fill="#fff"/>
<ellipse cx="170.57" cy="594.61" rx="2.5" ry="5.6" transform="rotate(24 170.57 594.61)" fill="#fff"/>
<polyline points="125.6,589.08 125.38,588.95 125.18,588.76 125.01,588.52 124.87,588.23 124.77,587.89 124.7,587.51 124.66,587.09 124.66,586.64 124.69,586.15 124.76,585.65 124.87,585.12 125.01,584.58 125.17,584.04 125.37,583.49 125.6,582.95 125.85,582.42 126.12,581.91 126.41,581.42 126.72,580.96 127.04,580.53 127.37,580.14 127.71,579.79 128.05,579.49 128.38,579.23 128.71,579.03 129.03,578.88 129.34,578.79 129.63,578.75 129.91,578.77 130.16,578.85" stroke-width="1.15"/>
<polyline points="129,589.93 128.77,589.8 128.57,589.61 128.41,589.37 128.27,589.07 128.16,588.74 128.09,588.36 128.06,587.94 128.06,587.48 128.09,587 128.16,586.49 128.26,585.97 128.4,585.43 128.57,584.88 128.77,584.34 128.99,583.8 129.24,583.27 129.52,582.76 129.81,582.27 130.12,581.8 130.44,581.38 130.77,580.98 131.1,580.64 131.44,580.33 131.78,580.08 132.11,579.88 132.43,579.73 132.74,579.63 133.03,579.6 133.3,579.62 133.55,579.7" stroke-width="1.15"/>
<polyline points="132.4,590.78 132.17,590.64 131.97,590.45 131.8,590.21 131.66,589.92 131.56,589.58 131.49,589.2 131.45,588.78 131.45,588.33 131.49,587.85 131.56,587.34 131.66,586.81 131.8,586.27 131.97,585.73 132.16,585.18 132.39,584.64 132.64,584.12 132.91,583.6 133.21,583.11 133.51,582.65 133.83,582.22 134.16,581.83 134.5,581.48 134.84,581.18 135.17,580.92 135.5,580.72 135.83,580.57 136.13,580.48 136.43,580.45 136.7,580.47 136.95,580.55" stroke-width="1.15"/>
<polyline points="135.79,591.62 135.57,591.49 135.37,591.3 135.2,591.06 135.06,590.77 134.95,590.43 134.88,590.05 134.85,589.63 134.85,589.18 134.88,588.69 134.95,588.19 135.06,587.66 135.19,587.12 135.36,586.58 135.56,586.03 135.79,585.49 136.04,584.96 136.31,584.45 136.6,583.96 136.91,583.5 137.23,583.07 137.56,582.68 137.9,582.33 138.23,582.03 138.57,581.77 138.9,581.57 139.22,581.42 139.53,581.33 139.82,581.29 140.1,581.31 140.35,581.39" stroke-width="1.15"/>
<polyline points="139.19,592.47 138.96,592.34 138.76,592.15 138.59,591.91 138.46,591.61 138.35,591.28 138.28,590.9 138.24,590.48 138.24,590.02 138.28,589.54 138.35,589.03 138.45,588.51 138.59,587.97 138.76,587.42 138.96,586.88 139.18,586.34 139.43,585.81 139.7,585.3 140,584.81 140.31,584.34 140.63,583.92 140.96,583.52 141.29,583.18 141.63,582.87 141.97,582.62 142.3,582.42 142.62,582.27 142.93,582.17 143.22,582.14 143.49,582.16 143.74,582.24" stroke-width="1.15"/>
<polyline points="142.58,593.32 142.36,593.18 142.16,592.99 141.99,592.75 141.85,592.46 141.75,592.12 141.68,591.74 141.64,591.32 141.64,590.87 141.67,590.39 141.74,589.88 141.85,589.35 141.99,588.82 142.15,588.27 142.35,587.72 142.58,587.18 142.83,586.66 143.1,586.14 143.39,585.65 143.7,585.19 144.02,584.76 144.35,584.37 144.69,584.02 145.03,583.72 145.36,583.46 145.69,583.26 146.01,583.11 146.32,583.02 146.61,582.99 146.89,583.01 147.14,583.09" stroke-width="1.15"/>
<polyline points="145.98,594.16 145.75,594.03 145.55,593.84 145.39,593.6 145.25,593.31 145.14,592.97 145.07,592.59 145.04,592.17 145.04,591.72 145.07,591.23 145.14,590.73 145.24,590.2 145.38,589.66 145.55,589.12 145.75,588.57 145.97,588.03 146.22,587.5 146.5,586.99 146.79,586.5 147.1,586.04 147.42,585.61 147.75,585.22 148.08,584.87 148.42,584.57 148.76,584.31 149.09,584.11 149.41,583.96 149.72,583.87 150.01,583.83 150.28,583.85 150.54,583.93" stroke-width="1.15"/>
<polyline points="149.38,595.01 149.15,594.88 148.95,594.69 148.78,594.45 148.64,594.15 148.54,593.82 148.47,593.44 148.43,593.02 148.43,592.56 148.47,592.08 148.54,591.57 148.64,591.05 148.78,590.51 148.95,589.96 149.14,589.42 149.37,588.88 149.62,588.35 149.89,587.84 150.19,587.35 150.49,586.89 150.81,586.46 151.14,586.07 151.48,585.72 151.82,585.41 152.15,585.16 152.48,584.96 152.81,584.81 153.11,584.72 153.41,584.68 153.68,584.7 153.93,584.78" stroke-width="1.15"/>
<polyline points="152.77,595.86 152.55,595.72 152.35,595.53 152.18,595.29 152.04,595 151.93,594.66 151.86,594.28 151.83,593.86 151.83,593.41 151.86,592.93 151.93,592.42 152.04,591.89 152.17,591.36 152.34,590.81 152.54,590.26 152.77,589.72 153.02,589.2 153.29,588.68 153.58,588.19 153.89,587.73 154.21,587.3 154.54,586.91 154.88,586.56 155.21,586.26 155.55,586.01 155.88,585.8 156.2,585.65 156.51,585.56 156.8,585.53 157.08,585.55 157.33,585.63" stroke-width="1.15"/>
<polyline points="156.17,596.7 155.94,596.57 155.74,596.38 155.57,596.14 155.44,595.85 155.33,595.51 155.26,595.13 155.22,594.71 155.22,594.26 155.26,593.77 155.33,593.27 155.43,592.74 155.57,592.2 155.74,591.66 155.94,591.11 156.16,590.57 156.41,590.04 156.69,589.53 156.98,589.04 157.29,588.58 157.61,588.15 157.94,587.76 158.27,587.41 158.61,587.11 158.95,586.85 159.28,586.65 159.6,586.5 159.91,586.41 160.2,586.37 160.47,586.39 160.72,586.47" stroke-width="1.15"/>
<polyline points="159.56,597.55 159.34,597.42 159.14,597.23 158.97,596.99 158.83,596.69 158.73,596.36 158.66,595.98 158.62,595.56 158.62,595.1 158.66,594.62 158.72,594.11 158.83,593.59 158.97,593.05 159.13,592.5 159.33,591.96 159.56,591.42 159.81,590.89 160.08,590.38 160.37,589.89 160.68,589.43 161,589 161.33,588.61 161.67,588.26 162.01,587.95 162.34,587.7 162.67,587.5 162.99,587.35 163.3,587.26 163.59,587.22 163.87,587.24 164.12,587.32" stroke-width="1.15"/>
<polyline points="162.96,598.4 162.73,598.26 162.53,598.07 162.37,597.83 162.23,597.54 162.12,597.2 162.05,596.82 162.02,596.4 162.02,595.95 162.05,595.47 162.12,594.96 162.22,594.43 162.36,593.9 162.53,593.35 162.73,592.81 162.95,592.26 163.2,591.74 163.48,591.22 163.77,590.73 164.08,590.27 164.4,589.84 164.73,589.45 165.06,589.1 165.4,588.8 165.74,588.55 166.07,588.34 166.39,588.19 166.7,588.1 166.99,588.07 167.26,588.09 167.52,588.17" stroke-width="1.15"/>
<polyline points="166.36,599.24 166.13,599.11 165.93,598.92 165.76,598.68 165.62,598.39 165.52,598.05 165.45,597.67 165.41,597.25 165.41,596.8 165.45,596.31 165.52,595.81 165.62,595.28 165.76,594.74 165.93,594.2 166.12,593.65 166.35,593.11 166.6,592.58 166.87,592.07 167.17,591.58 167.47,591.12 167.79,590.69 168.12,590.3 168.46,589.95 168.8,589.65 169.13,589.39 169.46,589.19 169.79,589.04 170.09,588.95 170.39,588.91 170.66,588.93 170.91,589.01" stroke-width="1.15"/>
<line x1="148.3" y1="581" x2="162.7" y2="550.6"/>
<text x="163.5" y="548.2" font-size="16" text-anchor="middle">17</text>
<polyline points="124.4,587.4 137.1,595.4 117.7,605.2"/>
<line x1="112.6" y1="608.2" x2="105.5" y2="612.3"/>
<polyline points="99.4,615.3 79.1,628.6 90.3,636.7"/>
<path d="M97.36,634.53 L128.82,649.88 A3.5,5.5 25 0 1 124.1,659.81 L92.64,644.47 A3.5,5.5 25 0 1 97.36,634.53 Z" fill="#fff"/>
<polyline points="93.57,644.92 93.26,644.74 92.97,644.51 92.71,644.22 92.49,643.89 92.3,643.52 92.15,643.1 92.05,642.65 91.99,642.17 91.97,641.67 91.99,641.15 92.06,640.61 92.16,640.07 92.31,639.53 92.5,638.99 92.73,638.46 92.99,637.95 93.28,637.46 93.6,636.99 93.95,636.56 94.31,636.17 94.7,635.81 95.1,635.5 95.5,635.24 95.91,635.04 96.33,634.88 96.73,634.78 97.13,634.74 97.51,634.76 97.88,634.83 98.22,634.95" stroke-width="1.1"/>
<polyline points="97.35,646.76 97.03,646.58 96.74,646.35 96.48,646.06 96.26,645.73 96.07,645.36 95.93,644.94 95.82,644.49 95.76,644.02 95.74,643.51 95.76,642.99 95.83,642.46 95.94,641.91 96.09,641.37 96.28,640.83 96.5,640.3 96.76,639.79 97.05,639.3 97.38,638.83 97.72,638.4 98.09,638.01 98.47,637.65 98.87,637.34 99.28,637.09 99.69,636.88 100.1,636.72 100.51,636.62 100.9,636.58 101.29,636.6 101.65,636.67 102,636.79" stroke-width="1.1"/>
<polyline points="101.12,648.61 100.81,648.42 100.52,648.19 100.26,647.9 100.04,647.57 99.85,647.2 99.7,646.78 99.6,646.34 99.54,645.86 99.52,645.35 99.54,644.83 99.61,644.3 99.71,643.75 99.86,643.21 100.05,642.67 100.28,642.14 100.54,641.63 100.83,641.14 101.15,640.67 101.5,640.24 101.86,639.85 102.25,639.49 102.65,639.19 103.05,638.93 103.46,638.72 103.88,638.56 104.28,638.47 104.68,638.42 105.06,638.44 105.43,638.51 105.77,638.64" stroke-width="1.1"/>
<polyline points="104.9,650.45 104.58,650.26 104.29,650.03 104.03,649.75 103.81,649.41 103.62,649.04 103.48,648.63 103.37,648.18 103.31,647.7 103.29,647.2 103.31,646.67 103.38,646.14 103.49,645.6 103.64,645.05 103.83,644.51 104.05,643.98 104.31,643.47 104.6,642.98 104.93,642.51 105.27,642.08 105.64,641.69 106.02,641.34 106.42,641.03 106.83,640.77 107.24,640.56 107.65,640.41 108.06,640.31 108.45,640.26 108.84,640.28 109.2,640.35 109.55,640.48" stroke-width="1.1"/>
<polyline points="108.67,652.29 108.36,652.11 108.07,651.87 107.81,651.59 107.58,651.26 107.4,650.88 107.25,650.47 107.15,650.02 107.09,649.54 107.07,649.04 107.09,648.51 107.16,647.98 107.26,647.44 107.41,646.89 107.6,646.35 107.83,645.82 108.09,645.31 108.38,644.82 108.7,644.36 109.05,643.92 109.41,643.53 109.8,643.18 110.2,642.87 110.6,642.61 111.01,642.4 111.43,642.25 111.83,642.15 112.23,642.11 112.61,642.12 112.98,642.19 113.32,642.32" stroke-width="1.1"/>
<polyline points="112.45,654.13 112.13,653.95 111.84,653.71 111.58,653.43 111.36,653.1 111.17,652.72 111.03,652.31 110.92,651.86 110.86,651.38 110.84,650.88 110.86,650.36 110.93,649.82 111.04,649.28 111.19,648.73 111.38,648.19 111.6,647.67 111.86,647.15 112.15,646.66 112.47,646.2 112.82,645.77 113.19,645.37 113.57,645.02 113.97,644.71 114.38,644.45 114.79,644.24 115.2,644.09 115.61,643.99 116,643.95 116.39,643.96 116.75,644.03 117.1,644.16" stroke-width="1.1"/>
<polyline points="116.22,655.97 115.91,655.79 115.62,655.55 115.36,655.27 115.13,654.94 114.95,654.56 114.8,654.15 114.7,653.7 114.64,653.22 114.62,652.72 114.64,652.2 114.71,651.66 114.81,651.12 114.96,650.57 115.15,650.04 115.38,649.51 115.64,648.99 115.93,648.5 116.25,648.04 116.6,647.61 116.96,647.21 117.35,646.86 117.75,646.55 118.15,646.29 118.56,646.08 118.98,645.93 119.38,645.83 119.78,645.79 120.16,645.8 120.53,645.87 120.87,646" stroke-width="1.1"/>
<polyline points="120,657.81 119.68,657.63 119.39,657.39 119.13,657.11 118.91,656.78 118.72,656.4 118.58,655.99 118.47,655.54 118.41,655.06 118.39,654.56 118.41,654.04 118.48,653.5 118.59,652.96 118.74,652.42 118.93,651.88 119.15,651.35 119.41,650.83 119.7,650.34 120.02,649.88 120.37,649.45 120.74,649.05 121.12,648.7 121.52,648.39 121.93,648.13 122.34,647.92 122.75,647.77 123.16,647.67 123.55,647.63 123.94,647.64 124.3,647.71 124.65,647.84" stroke-width="1.1"/>
<path d="M130.07,645.42 L134.57,647.61 A6,9.5 25 0 1 126.42,664.77 L121.93,662.58 A6,9.5 25 0 1 130.07,645.42 Z" fill="#fff"/>
<ellipse cx="130.49" cy="656.19" rx="6" ry="9.5" transform="rotate(25 130.49 656.19)" fill="#fff"/>
<path d="M134.5,655 Q132,654 131,657 Q131,660 133.5,661" fill="none" stroke-width="0.9"/>
<line x1="110.6" y1="656" x2="101.5" y2="682.5"/>
<text x="101.5" y="698.9" font-size="16" text-anchor="middle">19</text>
<path d="M188.96,673.97 L202.54,677.36 A3.4,7.3 16 0 1 198.63,691.42 L185.04,688.03 A3.4,7.3 16 0 1 188.96,673.97 Z" fill="#fff"/>
<ellipse cx="201.5" cy="684.3" rx="4.2" ry="8.4" transform="rotate(16 201.5 684.3)" fill="#fff"/>
<path d="M164.4,653.2 Q150,657 145,670 Q141.5,684 147,690.8 Q155,696 165.5,697.3 Q173,699 180.8,695.2 Q188.5,689 189.5,680 Q189.5,671 184,665.5 Q178,659 171,656.2 Q168,653.5 164.4,653.2 Z" fill="#fff"/>
<path d="M166.5,655.5 Q153,660 148,671 Q144.5,683 149,689.5 Q152,692.5 155,693.5" fill="none" stroke-width="0.9"/>
<path d="M168.5,657.5 Q156,662 151.5,672.5 Q148.5,683 152,690" fill="none" stroke-width="0.9"/>
<path d="M173.7,675 Q178,670 184,670" fill="none" stroke-width="1"/>
<path d="M167.7,685.3 Q166.5,691 167.7,697.3" fill="none" stroke-width="1"/>
<line x1="164.5" y1="698" x2="160.8" y2="728"/>
<text x="160" y="742.7" font-size="16" text-anchor="middle">20</text>
<path d="M188.71,583.17 L194.48,584.83 A8,11 24 0 1 187.06,605.48 L181.29,603.83 A8,11 24 0 1 188.71,583.17 Z" fill="#fff"/>
<ellipse cx="190.77" cy="595.15" rx="8" ry="11" transform="rotate(24 190.77 595.15)" fill="#fff"/>
<ellipse cx="191.5" cy="595.5" rx="4" ry="5.5" transform="rotate(24 191.5 595.5)" fill="#fff"/>
<line x1="191" y1="607.2" x2="194" y2="636"/>
<text x="195" y="652.2" font-size="16" text-anchor="middle">24</text>
<path d="M216.5,588.3 L265.3,598.5 Q270,600 271.4,601.7 L365,620.9 Q371,620.5 377.2,620.9 L424,629 Q430,632 428,640 Q426,646 422,647.3 L369,637 Q371,630 367,625 M369,637 Q360,633 350,631 L275.5,618.8 Q271,617 267.3,616.8 L208.3,608.7" fill="#fff"/>
<ellipse cx="212.4" cy="598.5" rx="7" ry="10.5" transform="rotate(15 212.4 598.5)" fill="#fff"/>
<ellipse cx="213" cy="598.8" rx="4" ry="6" transform="rotate(15 213 598.8)" fill="#fff"/>
<path d="M265.3,598.5 Q270,606 267.3,616.8" fill="none" stroke-width="1"/>
<line x1="305" y1="627.5" x2="300" y2="657.5"/>
<text x="299" y="675.2" font-size="16" text-anchor="middle">22</text>
<g transform="translate(2.5 1.5)">
<path d="M485.94,493.3 L490.35,495.65 A11,18.5 24 0 1 474.48,529.05 L470.06,526.7 A11,18.5 24 0 1 485.94,493.3 Z" fill="#fff"/>
<ellipse cx="482.41" cy="512.35" rx="11" ry="18.5" transform="rotate(24 482.41 512.35)" fill="#fff"/>
<polyline points="471.84,527.37 471,526.51 470.26,525.49 469.64,524.32 469.14,523.01 468.78,521.57 468.54,520.02 468.45,518.38 468.49,516.66 468.67,514.89 468.98,513.08 469.43,511.25 470,509.42 470.69,507.62 471.5,505.86 472.41,504.16 473.41,502.54 474.5,501.02 475.66,499.62 476.88,498.34 478.14,497.21 479.43,496.23 480.74,495.43 482.06,494.8 483.36,494.35 484.63,494.09" stroke-width="0.8"/>
<path d="M491.6,502.27 L505.72,509.79 A8,13 24 0 1 494.53,533.24 L480.4,525.73 A8,13 24 0 1 491.6,502.27 Z" fill="#fff"/>
<ellipse cx="500.13" cy="521.51" rx="8" ry="13" transform="rotate(24 500.13 521.51)" fill="#fff"/>
<path d="M504.52,512.03 L513.35,516.73 A6.5,10.5 24 0 1 504.31,535.66 L495.48,530.97 A6.5,10.5 24 0 1 504.52,512.03 Z" fill="#fff"/>
<ellipse cx="508.83" cy="526.19" rx="6.5" ry="10.5" transform="rotate(24 508.83 526.19)" fill="#fff"/>
<polyline points="498.73,532.59 498.13,532.26 497.59,531.83 497.1,531.31 496.68,530.69 496.33,529.99 496.05,529.21 495.85,528.36 495.73,527.45 495.69,526.5 495.72,525.51 495.84,524.49 496.03,523.45 496.3,522.41 496.65,521.37 497.06,520.36 497.54,519.37 498.08,518.42 498.67,517.52 499.31,516.68 499.99,515.91 500.71,515.22 501.44,514.62 502.2,514.1 502.96,513.69 503.73,513.37 504.49,513.16 505.23,513.06 505.94,513.07 506.63,513.18 507.27,513.41" stroke-width="0.9"/>
<path d="M513.99,520.68 L530.77,529.6 A4,7 24 0 1 524.79,542.24 L508.01,533.32 A4,7 24 0 1 513.99,520.68 Z" fill="#fff"/>
<ellipse cx="527.78" cy="535.92" rx="4" ry="7" transform="rotate(24 527.78 535.92)" fill="#fff"/>
<polyline points="511.68,535.27 511.32,535.07 510.99,534.79 510.69,534.46 510.44,534.06 510.24,533.6 510.08,533.09 509.97,532.54 509.91,531.95 509.9,531.32 509.94,530.66 510.04,529.99 510.18,529.3 510.37,528.61 510.6,527.93 510.88,527.25 511.2,526.59 511.55,525.96 511.94,525.35 512.35,524.79 512.79,524.27 513.25,523.8 513.72,523.39 514.2,523.04 514.69,522.75 515.17,522.52 515.65,522.37 516.11,522.29 516.56,522.28 516.98,522.35 517.38,522.48" stroke-width="1"/>
<polyline points="514.86,536.96 514.5,536.75 514.17,536.48 513.87,536.14 513.62,535.74 513.42,535.29 513.26,534.78 513.15,534.23 513.09,533.63 513.08,533.01 513.12,532.35 513.21,531.68 513.36,530.99 513.54,530.3 513.78,529.61 514.06,528.94 514.37,528.28 514.73,527.64 515.12,527.04 515.53,526.48 515.97,525.96 516.43,525.49 516.9,525.08 517.38,524.72 517.87,524.43 518.35,524.21 518.83,524.06 519.29,523.98 519.74,523.97 520.16,524.03 520.56,524.17" stroke-width="1"/>
<polyline points="518.04,538.65 517.68,538.44 517.34,538.17 517.05,537.83 516.8,537.43 516.6,536.98 516.44,536.47 516.33,535.92 516.27,535.32 516.26,534.7 516.3,534.04 516.39,533.37 516.53,532.68 516.72,531.99 516.96,531.3 517.24,530.63 517.55,529.97 517.91,529.33 518.29,528.73 518.71,528.17 519.15,527.65 519.61,527.18 520.08,526.76 520.56,526.41 521.05,526.12 521.53,525.9 522,525.75 522.47,525.67 522.91,525.66 523.34,525.72 523.74,525.86" stroke-width="1"/>
<polyline points="521.22,540.34 520.85,540.13 520.52,539.86 520.23,539.52 519.98,539.12 519.78,538.67 519.62,538.16 519.51,537.6 519.45,537.01 519.44,536.38 519.48,535.73 519.57,535.06 519.71,534.37 519.9,533.68 520.14,532.99 520.41,532.31 520.73,531.65 521.09,531.02 521.47,530.42 521.89,529.85 522.33,529.33 522.79,528.87 523.26,528.45 523.74,528.1 524.22,527.81 524.71,527.59 525.18,527.44 525.65,527.36 526.09,527.35 526.52,527.41 526.92,527.55" stroke-width="1"/>
</g>
<line x1="516" y1="515" x2="526.1" y2="491"/>
<text x="529.2" y="488.4" font-size="16" text-anchor="middle">28</text>
<ellipse cx="544.5" cy="546" rx="10" ry="15.5" transform="rotate(28 544.5 546)" fill="#fff"/>
<ellipse cx="545" cy="546.3" rx="7.8" ry="12.8" transform="rotate(28 545 546.3)" fill="#fff"/>
<line x1="553.6" y1="531" x2="565.8" y2="510.7"/>
<text x="572" y="506.2" font-size="16" text-anchor="middle">29</text>
<ellipse cx="570" cy="558" rx="13" ry="18.5" transform="rotate(28 570 558)" fill="#fff"/>
<ellipse cx="570.5" cy="559" rx="7.5" ry="11.5" transform="rotate(28 570.5 559)" fill="#fff"/>
<polyline points="556.83,560.63 557.07,558.96 557.46,557.28 557.98,555.61 558.63,553.97 559.4,552.37 560.3,550.83 561.3,549.37 562.39,548 563.57,546.75 564.81,545.62" stroke-width="0.7"/>
<line x1="582.1" y1="542.2" x2="600" y2="525"/>
<text x="606.5" y="522.7" font-size="16" text-anchor="middle">30</text>
<path d="M461.6,641.65 L544.33,656.24 A3.2,5.6 20 0 1 541.12,666.93 L458.4,652.35 A3.2,5.6 20 0 1 461.6,641.65 Z" fill="#fff"/>
<ellipse cx="461" cy="647.5" rx="3" ry="5.6" transform="rotate(20 461 647.5)" fill="#fff"/>
<polyline points="463.01,653.13 462.73,653 462.47,652.8 462.23,652.56 462.03,652.26 461.86,651.91 461.72,651.52 461.62,651.09 461.55,650.63 461.52,650.13 461.53,649.61 461.57,649.07 461.65,648.52 461.77,647.96 461.92,647.4 462.11,646.84 462.32,646.3 462.57,645.77 462.84,645.27 463.13,644.79 463.44,644.35 463.77,643.95 464.11,643.59 464.46,643.27 464.82,643.01 465.17,642.8 465.53,642.65 465.88,642.55 466.21,642.51 466.54,642.53 466.84,642.61" stroke-width="1"/>
<polyline points="467.44,653.92 467.16,653.78 466.9,653.59 466.66,653.34 466.46,653.04 466.29,652.7 466.15,652.31 466.05,651.88 465.98,651.41 465.95,650.92 465.96,650.4 466,649.86 466.08,649.3 466.2,648.74 466.35,648.18 466.54,647.63 466.75,647.08 467,646.56 467.27,646.05 467.56,645.58 467.87,645.13 468.2,644.73 468.54,644.37 468.89,644.06 469.25,643.79 469.61,643.58 469.96,643.43 470.31,643.33 470.64,643.29 470.97,643.31 471.27,643.39" stroke-width="1"/>
<polyline points="471.87,654.7 471.59,654.56 471.33,654.37 471.1,654.12 470.89,653.83 470.72,653.48 470.58,653.09 470.48,652.66 470.41,652.19 470.38,651.7 470.39,651.18 470.44,650.64 470.52,650.09 470.63,649.53 470.79,648.97 470.97,648.41 471.19,647.87 471.43,647.34 471.7,646.83 471.99,646.36 472.31,645.92 472.64,645.51 472.98,645.15 473.33,644.84 473.68,644.58 474.04,644.37 474.39,644.21 474.74,644.11 475.08,644.08 475.4,644.1 475.71,644.17" stroke-width="1"/>
<polyline points="476.31,655.48 476.02,655.35 475.76,655.15 475.53,654.91 475.33,654.61 475.15,654.26 475.02,653.87 474.91,653.44 474.85,652.98 474.82,652.48 474.82,651.96 474.87,651.42 474.95,650.87 475.07,650.31 475.22,649.75 475.4,649.19 475.62,648.65 475.86,648.12 476.13,647.62 476.43,647.14 476.74,646.7 477.07,646.3 477.41,645.94 477.76,645.62 478.12,645.36 478.47,645.15 478.83,644.99 479.17,644.9 479.51,644.86 479.83,644.88 480.14,644.96" stroke-width="1"/>
<polyline points="480.74,656.26 480.46,656.13 480.2,655.94 479.96,655.69 479.76,655.39 479.59,655.05 479.45,654.66 479.35,654.23 479.28,653.76 479.25,653.26 479.26,652.74 479.3,652.21 479.38,651.65 479.5,651.09 479.65,650.53 479.84,649.98 480.05,649.43 480.3,648.9 480.57,648.4 480.86,647.92 481.17,647.48 481.5,647.08 481.84,646.72 482.19,646.4 482.55,646.14 482.9,645.93 483.26,645.78 483.61,645.68 483.94,645.64 484.27,645.66 484.57,645.74" stroke-width="1"/>
<polyline points="485.17,657.05 484.89,656.91 484.63,656.72 484.39,656.47 484.19,656.17 484.02,655.83 483.88,655.44 483.78,655.01 483.71,654.54 483.68,654.05 483.69,653.53 483.73,652.99 483.81,652.44 483.93,651.88 484.08,651.31 484.27,650.76 484.48,650.21 484.73,649.69 485,649.18 485.29,648.71 485.6,648.27 485.93,647.86 486.27,647.5 486.62,647.19 486.98,646.92 487.34,646.71 487.69,646.56 488.04,646.46 488.37,646.42 488.7,646.44 489,646.52" stroke-width="1"/>
<polyline points="489.6,657.83 489.32,657.69 489.06,657.5 488.83,657.26 488.62,656.96 488.45,656.61 488.31,656.22 488.21,655.79 488.14,655.33 488.11,654.83 488.12,654.31 488.17,653.77 488.25,653.22 488.36,652.66 488.52,652.1 488.7,651.54 488.92,651 489.16,650.47 489.43,649.97 489.72,649.49 490.04,649.05 490.37,648.64 490.71,648.28 491.06,647.97 491.41,647.71 491.77,647.5 492.12,647.34 492.47,647.25 492.81,647.21 493.13,647.23 493.44,647.31" stroke-width="1"/>
<path d="M447.22,633.31 L451.92,635.02 A9,11.5 24 0 1 443.48,656.4 L438.78,654.69 A9,11.5 24 0 1 447.22,633.31 Z" fill="#fff"/>
<ellipse cx="447.7" cy="645.71" rx="9" ry="11.5" transform="rotate(24 447.7 645.71)" fill="#fff"/>
<ellipse cx="448.5" cy="646" rx="6" ry="7" transform="rotate(24 448.5 646)" fill="#fff"/>
<line x1="441.4" y1="655" x2="433.7" y2="682"/>
<text x="432.2" y="697.5" font-size="16" text-anchor="middle">23</text>
<path d="M565,683 L602.7,661.4 Q611,664 611.8,674 Q612,686 603,694 Q596,698 589,695 Q581,691 578,684 L565,683 Z" fill="#fff" stroke="none"/>
<path d="M602.7,661.4 Q611,664 611.8,674 Q612,686 603,694 Q596,698 589,695 Q581,691 578,684" fill="none"/>
<line x1="580.5" y1="680" x2="584" y2="690" stroke-width="0.9"/>
<line x1="584.5" y1="677.5" x2="588.5" y2="692.5" stroke-width="0.9"/>
<ellipse cx="599.8" cy="679.6" rx="6.4" ry="10" transform="rotate(22 599.8 679.6)" fill="#fff"/>
<path d="M514.4,811.8 Q510,815.8 505,815 Q498,813 495,806 Q493,798 495.9,790.6 L506.5,769.4 Q509.5,762 511.8,755.3 L525.9,677.6 Q528.5,668 536,662 L576,638 Q581,634 583.8,628.7 L600.8,560.7 Q603,556 608,556.1 L639.4,573.1 L645,583 L619.7,613 L607,652 L604,659 L563.4,682.5 Q556,686 553.3,689.8 Q550.6,693 549.8,697 L540,748.2 L525,794.1 Z" fill="#fff"/>
<path d="M600.8,560.7 Q590,567 585.5,578 Q582.5,590 591,596.5 L593,597" fill="#fff"/>
<line x1="600.8" y1="560.7" x2="583.8" y2="628.7"/>
<path d="M609.3,566 L594.9,625 Q593.5,632 588.1,640.3 L541.6,668 Q537.3,672 536.5,676 L526.8,721.8 L516.2,758.8 Q510,775 502.9,788.8 Q499.5,796 500.3,803 Q500.8,809 503.5,812.5" fill="none" stroke-width="1.2"/>
<polyline points="610,567 613.2,602.6 616.5,591" stroke-width="1.1"/>
<ellipse cx="631.8" cy="593.1" rx="11.5" ry="20.5" transform="rotate(26 631.8 593.1)" fill="#fff"/>
<ellipse cx="630.5" cy="593.5" rx="8" ry="14" transform="rotate(26 630.5 593.5)" fill="#fff"/>
<ellipse cx="630.2" cy="593.8" rx="6.8" ry="12.5" transform="rotate(26 630.2 593.8)" fill="none" stroke-width="0.8"/>
<line x1="596.9" y1="625.8" x2="607" y2="640.3" stroke-width="1.1"/>
<line x1="583" y1="645.4" x2="594.7" y2="662.2" stroke-width="1.1"/>
<line x1="540.9" y1="672.3" x2="551.8" y2="688.3" stroke-width="1.1"/>
<line x1="536.5" y1="677.6" x2="547.9" y2="693.5" stroke-width="1.1"/>
<line x1="531.2" y1="695.3" x2="544.4" y2="712" stroke-width="1.1"/>
<line x1="530.3" y1="712" x2="540.9" y2="727" stroke-width="1.1"/>
<line x1="520.6" y1="757" x2="530.3" y2="771.2" stroke-width="1.1"/>
<line x1="518" y1="768.5" x2="526.8" y2="781.8" stroke-width="1.1"/>
<line x1="563.4" y1="660" x2="563.4" y2="784.4" stroke-dasharray="20 3 3 3"/>
<line x1="563.4" y1="660" x2="576.5" y2="666.5" stroke-dasharray="8 3"/>
<line x1="536.5" y1="770.3" x2="563.4" y2="784.4"/>
<path d="M511.05,791.97 L576.96,827.75 A5,9 26 0 1 568.86,843.82 L502.95,808.03 A5,9 26 0 1 511.05,791.97 Z" fill="#fff"/>
<ellipse cx="572.91" cy="835.79" rx="5" ry="9" transform="rotate(26 572.91 835.79)" fill="#fff"/>
<line x1="533" y1="821.5" x2="533" y2="871.7"/>
<text x="533" y="898.7" font-size="16" text-anchor="middle">25</text>
<ellipse cx="656.9" cy="607.4" rx="14.5" ry="23.5" transform="rotate(28 656.9 607.4)" fill="#fff"/>
<ellipse cx="658" cy="609" rx="4.5" ry="7.5" transform="rotate(28 658 609)" fill="#fff"/>
<polyline points="641.41,611.62 641.81,609.51 642.37,607.37 643.09,605.24 643.97,603.13 644.98,601.06 646.13,599.07 647.39,597.16 648.76,595.37 650.21,593.71 651.74,592.2" stroke-width="0.7"/>
<line x1="661.5" y1="585" x2="666.5" y2="562.5"/>
<text x="669" y="556.7" font-size="16" text-anchor="middle">31</text>
<path d="M450.23,720.14 L465.26,725.61 A5.5,8.5 24 0 1 458.81,741.33 L443.77,735.86 A5.5,8.5 24 0 1 450.23,720.14 Z" fill="#fff"/>
<ellipse cx="462.04" cy="733.47" rx="5.5" ry="8.5" transform="rotate(24 462.04 733.47)" fill="#fff"/>
<ellipse cx="447" cy="728" rx="3" ry="5" transform="rotate(24 447 728)" fill="#fff"/>
<path d="M466.75,721.82 L491.09,719.23 A15,22 24 0 1 472.66,759.18 L459.25,738.18 A5,9 24 0 1 466.75,721.82 Z" fill="#fff"/>
<ellipse cx="481.87" cy="739.21" rx="15" ry="22" transform="rotate(24 481.87 739.21)" fill="#fff"/>
<ellipse cx="486.5" cy="739.5" rx="8" ry="11.5" transform="rotate(24 486.5 739.5)" fill="#fff"/>
<ellipse cx="487" cy="740" rx="6.5" ry="9.8" transform="rotate(24 487 740)" fill="none" stroke-width="0.8"/>
<line x1="497.8" y1="748.2" x2="509" y2="754"/>
<line x1="467.3" y1="757" x2="467.3" y2="786"/>
<text x="467.3" y="800.7" font-size="16" text-anchor="middle">27</text>
<polyline points="467.3,803 467.3,835.4 593.9,908 593.9,898"/>
<line x1="593.9" y1="870.2" x2="593.9" y2="882"/>
<g transform="translate(597 850.5) rotate(25.9)">
<path d="M0,-20.5 L66,-20.5 L66,20.5 L0,20.5 A12.7,20.5 0 0 1 0,-20.5 Z" fill="#fff" stroke="none"/>
<path d="M0,20.5 A12.7,20.5 0 0 1 0,-20.5" fill="none"/>
<line x1="0" y1="-20.5" x2="21" y2="-20.5"/>
<line x1="21" y1="-20.5" x2="48" y2="-20.5" stroke-dasharray="6 2.5"/>
<line x1="48" y1="-20.5" x2="66" y2="-20.5"/>
<line x1="0" y1="20.5" x2="13" y2="20.5"/>
<line x1="13" y1="20.5" x2="37" y2="20.5" stroke-dasharray="6 2.5"/>
<line x1="37" y1="20.5" x2="66" y2="20.5"/>
<ellipse cx="66" cy="0" rx="12.7" ry="20.5" fill="#fff"/>
<polyline points="1.29,20.19 -0.03,19.69 -1.32,18.97 -2.55,18.02 -3.71,16.87 -4.79,15.53 -5.78,14 -6.65,12.32 -7.41,10.49 -8.05,8.54 -8.55,6.49 -8.91,4.37 -9.13,2.2 -9.2,0 -9.13,-2.2 -8.91,-4.37 -8.55,-6.49 -8.05,-8.54 -7.41,-10.49 -6.65,-12.32 -5.78,-14 -4.79,-15.53 -3.71,-16.87 -2.55,-18.02 -1.32,-18.97 -0.03,-19.69 1.29,-20.19" stroke-width="0.9"/>
<polyline points="4.89,20.19 3.57,19.69 2.28,18.97 1.05,18.02 -0.11,16.87 -1.19,15.53 -2.18,14 -3.05,12.32 -3.81,10.49 -4.45,8.54 -4.95,6.49 -5.31,4.37 -5.53,2.2 -5.6,0 -5.53,-2.2 -5.31,-4.37 -4.95,-6.49 -4.45,-8.54 -3.81,-10.49 -3.05,-12.32 -2.18,-14 -1.19,-15.53 -0.11,-16.87 1.05,-18.02 2.28,-18.97 3.57,-19.69 4.89,-20.19" stroke-width="0.9"/>
<polyline points="8.49,20.19 7.17,19.69 5.88,18.97 4.65,18.02 3.49,16.87 2.41,15.53 1.42,14 0.55,12.32 -0.21,10.49 -0.85,8.54 -1.35,6.49 -1.71,4.37 -1.93,2.2 -2,0 -1.93,-2.2 -1.71,-4.37 -1.35,-6.49 -0.85,-8.54 -0.21,-10.49 0.55,-12.32 1.42,-14 2.41,-15.53 3.49,-16.87 4.65,-18.02 5.88,-18.97 7.17,-19.69 8.49,-20.19" stroke-width="0.9"/>
<polyline points="12.09,20.19 10.77,19.69 9.48,18.97 8.25,18.02 7.09,16.87 6.01,15.53 5.02,14 4.15,12.32 3.39,10.49 2.75,8.54 2.25,6.49 1.89,4.37 1.67,2.2 1.6,0 1.67,-2.2 1.89,-4.37 2.25,-6.49 2.75,-8.54 3.39,-10.49 4.15,-12.32 5.02,-14 6.01,-15.53 7.09,-16.87 8.25,-18.02 9.48,-18.97 10.77,-19.69 12.09,-20.19" stroke-width="0.9"/>
<polyline points="35.79,20.19 34.47,19.69 33.18,18.97 31.95,18.02 30.79,16.87 29.71,15.53 28.72,14 27.85,12.32 27.09,10.49 26.45,8.54 25.95,6.49 25.59,4.37 25.37,2.2 25.3,0 25.37,-2.2 25.59,-4.37 25.95,-6.49 26.45,-8.54 27.09,-10.49 27.85,-12.32 28.72,-14 29.71,-15.53 30.79,-16.87 31.95,-18.02 33.18,-18.97 34.47,-19.69 35.79,-20.19" stroke-width="0.9"/>
<polyline points="39.59,20.19 38.27,19.69 36.98,18.97 35.75,18.02 34.59,16.87 33.51,15.53 32.52,14 31.65,12.32 30.89,10.49 30.25,8.54 29.75,6.49 29.39,4.37 29.17,2.2 29.1,0 29.17,-2.2 29.39,-4.37 29.75,-6.49 30.25,-8.54 30.89,-10.49 31.65,-12.32 32.52,-14 33.51,-15.53 34.59,-16.87 35.75,-18.02 36.98,-18.97 38.27,-19.69 39.59,-20.19" stroke-width="0.9"/>
<polyline points="43.39,20.19 42.07,19.69 40.78,18.97 39.55,18.02 38.39,16.87 37.31,15.53 36.32,14 35.45,12.32 34.69,10.49 34.05,8.54 33.55,6.49 33.19,4.37 32.97,2.2 32.9,0 32.97,-2.2 33.19,-4.37 33.55,-6.49 34.05,-8.54 34.69,-10.49 35.45,-12.32 36.32,-14 37.31,-15.53 38.39,-16.87 39.55,-18.02 40.78,-18.97 42.07,-19.69 43.39,-20.19" stroke-width="0.9"/>
<polyline points="47.19,20.19 45.87,19.69 44.58,18.97 43.35,18.02 42.19,16.87 41.11,15.53 40.12,14 39.25,12.32 38.49,10.49 37.85,8.54 37.35,6.49 36.99,4.37 36.77,2.2 36.7,0 36.77,-2.2 36.99,-4.37 37.35,-6.49 37.85,-8.54 38.49,-10.49 39.25,-12.32 40.12,-14 41.11,-15.53 42.19,-16.87 43.35,-18.02 44.58,-18.97 45.87,-19.69 47.19,-20.19" stroke-width="0.9"/>
<polyline points="50.99,20.19 49.67,19.69 48.38,18.97 47.15,18.02 45.99,16.87 44.91,15.53 43.92,14 43.05,12.32 42.29,10.49 41.65,8.54 41.15,6.49 40.79,4.37 40.57,2.2 40.5,0 40.57,-2.2 40.79,-4.37 41.15,-6.49 41.65,-8.54 42.29,-10.49 43.05,-12.32 43.92,-14 44.91,-15.53 45.99,-16.87 47.15,-18.02 48.38,-18.97 49.67,-19.69 50.99,-20.19" stroke-width="0.9"/>
</g>
<path d="M659.5,875.5 Q656,872 652.5,876.5 Q650.5,881 653,885 Q655.5,887.5 658.5,885.5" fill="none" stroke-width="1.1"/>
<text x="594.6" y="895.2" font-size="16" text-anchor="middle">26</text>
<polygon points="13.6,921.7 26.4,898.3 30.4,901.4 54.8,887.1 58.4,888.6 58.9,907 30.9,922.7 30.4,929.8" fill="#fff" stroke-width="1.6"/>
<polyline points="16.7,920.7 28.9,902.9" stroke-width="1.1"/>
<polyline points="30.9,904.4 56.4,890.2 56.6,906.5" stroke-width="1.1"/>
<text transform="translate(31.2 920) skewY(-29) skewX(-5) scale(0.6 1)" font-size="18" font-weight="bold" style="stroke-width:0.9px">FWD</text>
<text x="12" y="951.2" font-size="15" style="stroke-width:0.3px" transform="translate(12 951.2) scale(1 1.06) translate(-12 -951.2)">5JW1300-1200</text>
</g></svg></body></html>
